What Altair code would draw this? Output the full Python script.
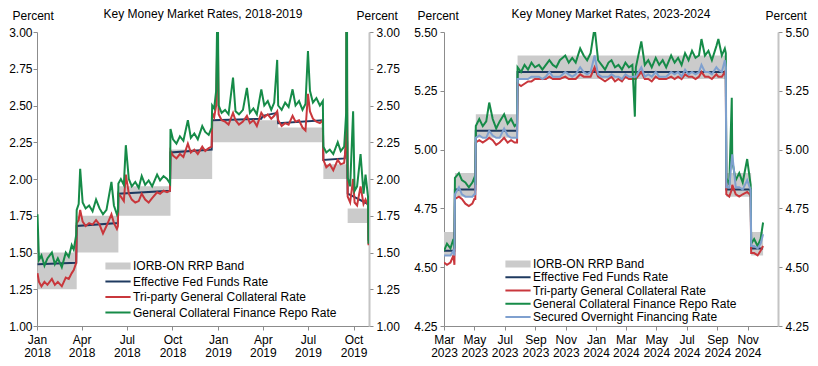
import altair as alt
import pandas as pd

FONT = "Liberation Sans"
AX_DARK = "#8C8C8C"
AX_LIGHT = "#C4C4C4"

SERIES = ["IORB-ON RRP Band", "Effective Fed Funds Rate", "Tri-party General Collateral Rate",
          "General Collateral Finance Repo Rate", "Secured Overnight Financing Rate"]
COLORS = ["#CBCBCB", "#1F3A60", "#C9373C", "#168B48", "#7FA0CF"]

# ---------------- Panel 1: 2018-2019 ----------------
p1_band_dates = ["2018-01-02", "2018-03-22", "2018-06-14", "2018-09-27", "2018-12-20",
                 "2019-05-02", "2019-08-01", "2019-09-19", "2019-10-31"]
p1_iorb = [1.50, 1.75, 1.95, 2.20, 2.40, 2.35, 2.10, 1.80, 1.55]
p1_onrrp = [1.25, 1.50, 1.75, 2.00, 2.25, 2.25, 2.00, 1.70, 1.45]

p1_effr_dates = ["2018-01-02", "2018-03-21", "2018-03-22", "2018-06-13", "2018-06-14",
                 "2018-09-26", "2018-09-27", "2018-12-19", "2018-12-20", "2019-03-29",
                 "2019-04-01", "2019-04-30", "2019-05-02", "2019-07-31", "2019-08-01",
                 "2019-09-13", "2019-09-16", "2019-09-17", "2019-09-18", "2019-09-19",
                 "2019-10-01", "2019-10-30", "2019-10-31"]
p1_effr = [1.42, 1.43, 1.68, 1.70, 1.90,
           1.92, 2.18, 2.20, 2.40, 2.41,
           2.43, 2.45, 2.38, 2.40, 2.13,
           2.14, 2.25, 2.30, 2.25, 1.90,
           1.88, 1.83, 1.58]

p1_dates = [
    "2018-01-02", "2018-01-05", "2018-01-10", "2018-01-16", "2018-01-22", "2018-01-31",
    "2018-02-06", "2018-02-12", "2018-02-20", "2018-02-28",
    "2018-03-06", "2018-03-12", "2018-03-16", "2018-03-21", "2018-03-22", "2018-03-26", "2018-03-29",
    "2018-04-03", "2018-04-09", "2018-04-16", "2018-04-23", "2018-04-30",
    "2018-05-07", "2018-05-14", "2018-05-21", "2018-05-31",
    "2018-06-05", "2018-06-11", "2018-06-13", "2018-06-14", "2018-06-19", "2018-06-25", "2018-06-29",
    "2018-07-05", "2018-07-11", "2018-07-18", "2018-07-25", "2018-07-31",
    "2018-08-07", "2018-08-14", "2018-08-21", "2018-08-31",
    "2018-09-06", "2018-09-13", "2018-09-20", "2018-09-26", "2018-09-27",
    "2018-10-02", "2018-10-09", "2018-10-16", "2018-10-23",
    "2018-11-01", "2018-11-07", "2018-11-14", "2018-11-21", "2018-11-30",
    "2018-12-06", "2018-12-13", "2018-12-19", "2018-12-20", "2018-12-24", "2018-12-28", "2018-12-31",
    "2019-01-02", "2019-01-08", "2019-01-15", "2019-01-22", "2019-01-31",
    "2019-02-05", "2019-02-12", "2019-02-20", "2019-02-28",
    "2019-03-06", "2019-03-13", "2019-03-20", "2019-03-29",
    "2019-04-04", "2019-04-11", "2019-04-18", "2019-04-24", "2019-04-30",
    "2019-05-02", "2019-05-09", "2019-05-16", "2019-05-23", "2019-05-31",
    "2019-06-06", "2019-06-13", "2019-06-20", "2019-06-26",
    "2019-07-01", "2019-07-05", "2019-07-11", "2019-07-18", "2019-07-25", "2019-07-31",
    "2019-08-01", "2019-08-07", "2019-08-14", "2019-08-21", "2019-08-30",
    "2019-09-05", "2019-09-12", "2019-09-16", "2019-09-17", "2019-09-18", "2019-09-19", "2019-09-24", "2019-09-30",
    "2019-10-03", "2019-10-08", "2019-10-15", "2019-10-21", "2019-10-25", "2019-10-30", "2019-10-31",
]
p1_gcf = [
    1.76, 1.45, 1.48, 1.41, 1.46, 1.50,
    1.42, 1.46, 1.40, 1.50,
    1.47, 1.55, 1.52, 1.62, 1.79, 1.83, 2.07,
    1.84, 1.80, 1.82, 1.78, 1.86,
    1.80, 1.76, 1.79, 1.98,
    1.82, 1.76, 1.78, 1.97, 2.00, 1.96, 2.23,
    2.00, 1.95, 1.98, 1.94, 2.02,
    1.96, 1.99, 1.95, 2.03,
    1.99, 2.02, 2.00, 1.97, 2.34,
    2.27, 2.24, 2.29, 2.26,
    2.40, 2.28, 2.31, 2.27, 2.36,
    2.32, 2.30, 2.35, 2.50, 2.48, 2.60, 3.30,
    2.50, 2.45, 2.47, 2.44, 2.69,
    2.46, 2.44, 2.47, 2.62,
    2.45, 2.48, 2.44, 2.61,
    2.50, 2.53, 2.47, 2.52, 2.81,
    2.50, 2.47, 2.52, 2.49, 2.61,
    2.50, 2.53, 2.47, 2.51,
    2.87, 2.60, 2.52, 2.55, 2.50, 2.53,
    2.22, 2.18, 2.20, 2.17, 2.25,
    2.19, 2.22, 2.45, 4.50, 2.60, 2.01, 1.95, 2.46,
    1.92, 1.95, 2.17, 1.90, 2.03, 1.88, 1.56,
]
p1_tgcr = [
    1.36, 1.30, 1.27, 1.30, 1.28, 1.32,
    1.28, 1.30, 1.27, 1.33,
    1.32, 1.36, 1.38, 1.43, 1.70, 1.72, 1.79,
    1.71, 1.68, 1.70, 1.69, 1.72,
    1.69, 1.63, 1.68, 1.76,
    1.70, 1.66, 1.68, 1.90, 1.88, 1.85, 2.03,
    1.90, 1.86, 1.84, 1.85, 1.90,
    1.86, 1.84, 1.87, 1.91,
    1.90, 1.92, 1.91, 1.92, 2.19,
    2.16, 2.14, 2.17, 2.15,
    2.24, 2.18, 2.20, 2.17, 2.22,
    2.19, 2.21, 2.22, 2.45, 2.42, 2.50, 3.10,
    2.44, 2.40, 2.39, 2.37, 2.45,
    2.40, 2.37, 2.39, 2.43,
    2.38, 2.40, 2.36, 2.45,
    2.42, 2.44, 2.41, 2.43, 2.46,
    2.40, 2.36, 2.38, 2.37, 2.43,
    2.39, 2.40, 2.35, 2.33,
    2.58, 2.46, 2.41, 2.39, 2.38, 2.40,
    2.13, 2.08, 2.10, 2.06, 2.13,
    2.10, 2.11, 2.25, 4.00, 2.45, 1.88, 1.84, 2.00,
    1.84, 1.82, 1.95, 1.83, 1.86, 1.82, 1.55,
]

# ---------------- Panel 2: 2023-2024 ----------------
p2_band_dates = ["2023-03-01", "2023-03-23", "2023-05-04", "2023-07-27",
                 "2024-09-19", "2024-11-08", "2024-12-02"]
p2_iorb = [4.65, 4.90, 5.15, 5.40, 4.90, 4.65, 4.65]
p2_onrrp = [4.55, 4.80, 5.05, 5.30, 4.80, 4.55, 4.55]

p2_effr_dates = ["2023-03-01", "2023-03-22", "2023-03-23", "2023-05-03", "2023-05-04",
                 "2023-07-26", "2023-07-27", "2024-09-18", "2024-09-19", "2024-11-07",
                 "2024-11-08", "2024-12-02"]
p2_effr = [4.57, 4.57, 4.83, 4.83, 5.08,
           5.08, 5.33, 5.33, 4.83, 4.83,
           4.58, 4.58]

p2_dates = [
    "2023-03-01", "2023-03-07", "2023-03-14", "2023-03-20", "2023-03-22", "2023-03-23", "2023-03-31",
    "2023-04-06", "2023-04-13", "2023-04-20", "2023-04-27",
    "2023-05-01", "2023-05-03", "2023-05-04", "2023-05-11", "2023-05-18", "2023-05-25", "2023-05-31",
    "2023-06-07", "2023-06-14", "2023-06-21", "2023-06-30",
    "2023-07-07", "2023-07-14", "2023-07-21", "2023-07-26", "2023-07-27",
    "2023-08-03", "2023-08-10", "2023-08-17", "2023-08-24", "2023-08-31",
    "2023-09-08", "2023-09-15", "2023-09-22", "2023-09-29",
    "2023-10-06", "2023-10-13", "2023-10-20", "2023-10-31",
    "2023-11-07", "2023-11-14", "2023-11-21", "2023-11-30",
    "2023-12-07", "2023-12-14", "2023-12-21", "2023-12-29",
    "2024-01-05", "2024-01-12", "2024-01-19", "2024-01-26",
    "2024-02-01", "2024-02-08", "2024-02-15", "2024-02-22", "2024-02-29",
    "2024-03-07", "2024-03-14", "2024-03-19", "2024-03-21",
    "2024-04-01", "2024-04-08", "2024-04-15", "2024-04-22", "2024-04-30",
    "2024-05-07", "2024-05-14", "2024-05-21", "2024-05-31",
    "2024-06-07", "2024-06-14", "2024-06-21", "2024-06-28",
    "2024-07-05", "2024-07-12", "2024-07-19", "2024-07-26", "2024-07-31",
    "2024-08-07", "2024-08-14", "2024-08-21", "2024-08-30",
    "2024-09-03", "2024-09-10", "2024-09-16", "2024-09-18", "2024-09-19", "2024-09-25", "2024-09-30",
    "2024-10-01", "2024-10-08", "2024-10-15", "2024-10-22", "2024-10-31",
    "2024-11-05", "2024-11-07", "2024-11-08", "2024-11-14", "2024-11-21", "2024-11-27",
    "2024-12-02",
]
p2_gcf = [
    4.57, 4.60, 4.58, 4.62, 4.58, 4.88, 4.90,
    4.87, 4.86, 4.84, 4.86,
    4.88, 4.85, 5.10, 5.13, 5.10, 5.12, 5.20,
    5.13, 5.09, 5.12, 5.15,
    5.11, 5.13, 5.10, 5.11, 5.35,
    5.33, 5.36, 5.34, 5.37, 5.35,
    5.36, 5.34, 5.36, 5.38,
    5.36, 5.35, 5.38, 5.40,
    5.37, 5.39, 5.37, 5.43,
    5.40, 5.38, 5.41, 5.52,
    5.38, 5.36, 5.34, 5.37,
    5.38, 5.35, 5.36, 5.34, 5.37,
    5.35, 5.36, 5.14, 5.35,
    5.46, 5.36, 5.38, 5.35, 5.39,
    5.36, 5.38, 5.35, 5.40,
    5.37, 5.39, 5.36, 5.41,
    5.38, 5.42, 5.39, 5.40, 5.47,
    5.40, 5.42, 5.38, 5.44,
    5.47, 5.40, 5.43, 5.41, 4.88, 4.85, 5.22,
    4.95, 4.87, 4.90, 4.86, 4.96,
    4.88, 4.85, 4.60, 4.62, 4.59, 4.62,
    4.69,
]
p2_tgcr = [
    4.52, 4.51, 4.52, 4.55, 4.51, 4.79, 4.80,
    4.79, 4.77, 4.76, 4.77,
    4.79, 4.79, 5.03, 5.04, 5.03, 5.04, 5.05,
    5.04, 5.02, 5.03, 5.05,
    5.03, 5.04, 5.03, 5.03, 5.28,
    5.27, 5.28, 5.29, 5.29, 5.30,
    5.30, 5.30, 5.30, 5.31,
    5.30, 5.30, 5.30, 5.31,
    5.30, 5.30, 5.30, 5.32,
    5.31, 5.31, 5.31, 5.35,
    5.31, 5.30, 5.29, 5.30,
    5.31, 5.29, 5.30, 5.29, 5.31,
    5.30, 5.30, 5.30, 5.30,
    5.33, 5.30, 5.30, 5.29, 5.31,
    5.30, 5.30, 5.30, 5.31,
    5.30, 5.31, 5.30, 5.32,
    5.31, 5.31, 5.30, 5.31, 5.33,
    5.31, 5.31, 5.30, 5.32,
    5.31, 5.31, 5.33, 5.31, 4.81, 4.80, 4.83,
    4.85, 4.81, 4.80, 4.81, 4.82,
    4.81, 4.80, 4.56, 4.56, 4.55, 4.57,
    4.59,
]
p2_sofr = [
    4.55, 4.55, 4.55, 4.57, 4.55, 4.81, 4.84,
    4.81, 4.80, 4.80, 4.80,
    4.81, 4.81, 5.05, 5.06, 5.05, 5.05, 5.08,
    5.06, 5.05, 5.05, 5.09,
    5.06, 5.05, 5.05, 5.05, 5.30,
    5.30, 5.30, 5.30, 5.31, 5.31,
    5.31, 5.30, 5.31, 5.33,
    5.31, 5.31, 5.31, 5.33,
    5.32, 5.31, 5.32, 5.35,
    5.33, 5.32, 5.33, 5.40,
    5.32, 5.31, 5.31, 5.31,
    5.32, 5.31, 5.31, 5.30, 5.32,
    5.31, 5.31, 5.31, 5.31,
    5.35, 5.31, 5.32, 5.31, 5.33,
    5.31, 5.31, 5.31, 5.33,
    5.32, 5.33, 5.31, 5.34,
    5.32, 5.33, 5.32, 5.33, 5.36,
    5.33, 5.33, 5.32, 5.35,
    5.34, 5.33, 5.38, 5.35, 4.84, 4.84, 4.96,
    4.98, 4.84, 4.84, 4.83, 4.87,
    4.84, 4.83, 4.59, 4.59, 4.58, 4.60,
    4.64,
]

assert len(p1_dates) == len(p1_gcf) == len(p1_tgcr)
assert len(p2_dates) == len(p2_gcf) == len(p2_tgcr) == len(p2_sofr)

IS_BAND = "datum.value === 'IORB-ON RRP Band'"


def dt(y, m, d=1):
    return alt.DateTime(year=y, month=m, date=d, utc=True)


def panel(title, band_dates, upper, lower, series_data, names, ydom, yvals, xdom, xvals,
          width, legend_x, legend_y, row_pad, title_x, left_pad):
    band_df = pd.DataFrame({"date": band_dates, "hi": upper, "lo": lower})
    rows = []
    for name in names[1:]:
        dates, vals = series_data[name]
        for d, v in zip(dates, vals):
            rows.append({"date": d, "value": v, "series": name})
    line_df = pd.DataFrame(rows)

    x = alt.X(
        "date:T",
        scale=alt.Scale(type="utc", domain=xdom),
        axis=alt.Axis(
            values=xvals, title=None, grid=False, tickSize=4, labelPadding=4,
            labelExpr="[utcFormat(datum.value, '%b'), utcFormat(datum.value, '%Y')]",
            labelLineHeight=13, labelFlush=False, labelOverlap=False,
            domainColor=AX_DARK, tickColor=AX_DARK,
        ),
    )
    yscale = alt.Scale(domain=ydom, nice=False, zero=False)
    common_y = dict(values=yvals, format=".2f", grid=False, tickSize=4,
                    title="Percent", titleAngle=0, titleAlign="left",
                    titleBaseline="alphabetic", titleY=-13)
    left_axis = alt.Axis(orient="left", titleX=title_x, domainColor=AX_DARK,
                         tickColor=AX_DARK, labelPadding=left_pad, **common_y)
    right_axis = alt.Axis(orient="right", titleX=-13, domainColor=AX_LIGHT, domainWidth=2,
                          tickColor=AX_DARK, labelPadding=3, **common_y)

    band = alt.Chart(band_df).mark_area(interpolate="step-after", color=COLORS[0]).encode(
        x=x,
        y=alt.Y("lo:Q", scale=yscale, axis=left_axis),
        y2="hi:Q",
    )
    legend = alt.Legend(
        orient="none", legendX=legend_x, legendY=legend_y, title=None,
        symbolType={"expr": IS_BAND + " ? 'M-1.8,-0.5H1.8V0.5H-1.8Z' : 'M-1.8,0H1.8'"},
        symbolSize=196,
        symbolStrokeWidth={"expr": IS_BAND + " ? 0 : 2"},
        symbolFillColor={"expr": IS_BAND + " ? '" + COLORS[0] + "' : 'transparent'"},
        labelOffset=9, rowPadding=row_pad, padding=0, offset=0, labelLimit=400,
        labelFont=FONT, labelFontSize=12, labelColor="black",
    )
    lines = alt.Chart(line_df).mark_line(clip=True).encode(
        x=x,
        y=alt.Y("value:Q", scale=yscale, axis=None),
        color=alt.Color("series:N", sort=names,
                        scale=alt.Scale(domain=names, range=COLORS[:len(names)]),
                        legend=legend),
    )
    right = alt.Chart(band_df).mark_line(opacity=0).encode(
        x=x,
        y=alt.Y("hi:Q", scale=yscale, axis=right_axis),
    )
    return alt.layer(band, lines, right).resolve_scale(y="independent").properties(
        width=width, height=294,
        title=alt.TitleParams(title, anchor="middle", frame="group", offset=-12, fontSize=12,
                              fontWeight="normal", font=FONT, color="black"),
    )


p1 = panel(
    "Key Money Market Rates, 2018-2019",
    p1_band_dates, p1_iorb, p1_onrrp,
    {SERIES[1]: (p1_effr_dates, p1_effr), SERIES[2]: (p1_dates, p1_tgcr),
     SERIES[3]: (p1_dates, p1_gcf)},
    SERIES[:4],
    [1.0, 3.0], [1.0, 1.25, 1.5, 1.75, 2.0, 2.25, 2.5, 2.75, 3.0],
    [dt(2018, 1), dt(2019, 11)],
    [dt(2018, 1), dt(2018, 4), dt(2018, 7), dt(2018, 10),
     dt(2019, 1), dt(2019, 4), dt(2019, 7), dt(2019, 10)],
    332, 75, 228, 3.5, -25, 1,
)
p2 = panel(
    "Key Money Market Rates, 2023-2024",
    p2_band_dates, p2_iorb, p2_onrrp,
    {SERIES[1]: (p2_effr_dates, p2_effr), SERIES[2]: (p2_dates, p2_tgcr),
     SERIES[3]: (p2_dates, p2_gcf), SERIES[4]: (p2_dates, p2_sofr)},
    SERIES,
    [4.25, 5.5], [4.25, 4.5, 4.75, 5.0, 5.25, 5.5],
    [dt(2023, 3), dt(2025, 1)],
    [dt(2023, 3), dt(2023, 5), dt(2023, 7), dt(2023, 9), dt(2023, 11),
     dt(2024, 1), dt(2024, 3), dt(2024, 5), dt(2024, 7), dt(2024, 9), dt(2024, 11)],
    334, 68, 226, 1.25, -27, 3,
)

chart = alt.hconcat(p1, p2, spacing=13).resolve_scale(color="independent").resolve_legend(
    color="independent"
).properties(padding={"left": 0, "top": 0, "right": 0, "bottom": 0}).configure_view(
    stroke=None
).configure_axis(
    labelFont=FONT, labelFontSize=12, labelColor="black",
    titleFont=FONT, titleFontSize=12, titleFontWeight="normal", titleColor="black",
).configure_legend(labelFont=FONT, labelFontSize=12, labelColor="black")

chart.save("out.html", embed_options={"renderer": "svg", "actions": False})
